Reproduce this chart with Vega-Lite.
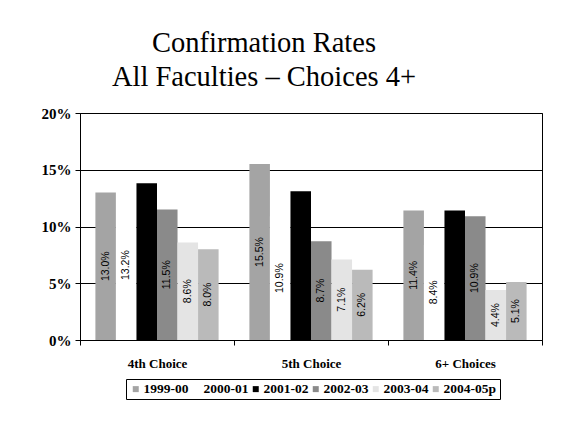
{
  "$schema": "https://vega.github.io/schema/vega-lite/v6.json",
  "autosize": {"type": "none"},
  "padding": {"left": 80, "top": 113, "right": 26, "bottom": 88},
  "width": 462,
  "height": 227,
  "background": "white",
  "title": {
    "text": ["Confirmation Rates", "All Faculties – Choices 4+"],
    "font": "Liberation Serif",
    "fontSize": 28.5,
    "fontWeight": "normal",
    "lineHeight": 34,
    "anchor": "middle",
    "dx": -47,
    "offset": 15,
    "color": "black"
  },
  "data": {
    "values": [
      {"choice": "4th Choice", "year": "1999-00", "rate": 0.130},
      {"choice": "4th Choice", "year": "2000-01", "rate": 0.132},
      {"choice": "4th Choice", "year": "2001-02", "rate": 0.138},
      {"choice": "4th Choice", "year": "2002-03", "rate": 0.115},
      {"choice": "4th Choice", "year": "2003-04", "rate": 0.086},
      {"choice": "4th Choice", "year": "2004-05p", "rate": 0.080},
      {"choice": "5th Choice", "year": "1999-00", "rate": 0.155},
      {"choice": "5th Choice", "year": "2000-01", "rate": 0.109},
      {"choice": "5th Choice", "year": "2001-02", "rate": 0.131},
      {"choice": "5th Choice", "year": "2002-03", "rate": 0.087},
      {"choice": "5th Choice", "year": "2003-04", "rate": 0.071},
      {"choice": "5th Choice", "year": "2004-05p", "rate": 0.062},
      {"choice": "6+ Choices", "year": "1999-00", "rate": 0.114},
      {"choice": "6+ Choices", "year": "2000-01", "rate": 0.084},
      {"choice": "6+ Choices", "year": "2001-02", "rate": 0.114},
      {"choice": "6+ Choices", "year": "2002-03", "rate": 0.109},
      {"choice": "6+ Choices", "year": "2003-04", "rate": 0.044},
      {"choice": "6+ Choices", "year": "2004-05p", "rate": 0.051}
    ]
  },
  "encoding": {
    "x": {
      "field": "choice",
      "type": "nominal",
      "sort": ["4th Choice", "5th Choice", "6+ Choices"],
      "scale": {"paddingInner": 0, "paddingOuter": 0},
      "axis": {
        "title": null,
        "labelAngle": 0,
        "labelFont": "Liberation Serif",
        "labelFontWeight": "bold",
        "labelFontSize": 13,
        "labelColor": "black",
        "labelPadding": 12,
        "tickBand": "extent",
        "tickColor": "black",
        "tickSize": 5,
        "domainColor": "black",
        "grid": false
      }
    },
    "xOffset": {
      "field": "year",
      "type": "nominal",
      "sort": ["1999-00", "2000-01", "2001-02", "2002-03", "2003-04", "2004-05p"],
      "scale": {"paddingInner": 0, "paddingOuter": 0.75}
    }
  },
  "layer": [
    {
      "mark": {"type": "bar"},
      "encoding": {
        "y": {
          "field": "rate",
          "type": "quantitative",
          "scale": {"domain": [0, 0.2]},
          "axis": {
            "title": null,
            "format": ".0%",
            "values": [0, 0.05, 0.1, 0.15, 0.2],
            "labelFont": "Liberation Serif",
            "labelFontWeight": "bold",
            "labelFontSize": 15,
            "labelColor": "black",
            "labelPadding": 4,
            "tickColor": "black",
            "tickSize": 5,
            "domainColor": "black",
            "grid": true,
            "gridColor": "black",
            "gridOpacity": 1,
            "gridWidth": 1
          }
        },
        "color": {
          "field": "year",
          "type": "nominal",
          "scale": {
            "domain": ["1999-00", "2000-01", "2001-02", "2002-03", "2003-04", "2004-05p"],
            "range": ["#a4a4a4", "#ffffff", "#000000", "#8a8a8a", "#e4e4e4", "#bababa"]
          },
          "legend": {
            "title": null,
            "orient": "none",
            "legendX": 46,
            "legendY": 266,
            "direction": "horizontal",
            "columns": 6,
            "symbolType": "square",
            "symbolSize": 36,
            "symbolStrokeWidth": 0,
            "labelFont": "Liberation Serif",
            "labelFontWeight": "bold",
            "labelFontSize": 13.5,
            "labelColor": "black",
            "labelOffset": 1,
            "labelLimit": 200,
            "columnPadding": 0,
            "padding": 3,
            "strokeColor": "black",
            "fillColor": "white"
          }
        }
      }
    },
    {
      "mark": {
        "type": "text",
        "angle": 270,
        "font": "Liberation Sans",
        "fontSize": 10.5,
        "color": "black",
        "baseline": "middle",
        "align": "center"
      },
      "encoding": {
        "y": {
          "field": "rate",
          "type": "quantitative",
          "scale": {"domain": [0, 0.4]},
          "axis": null
        },
        "text": {"field": "rate", "type": "quantitative", "format": ".1%"}
      }
    }
  ],
  "resolve": {"scale": {"y": "independent"}},
  "config": {
    "view": {"stroke": "black", "strokeWidth": 1}
  }
}
